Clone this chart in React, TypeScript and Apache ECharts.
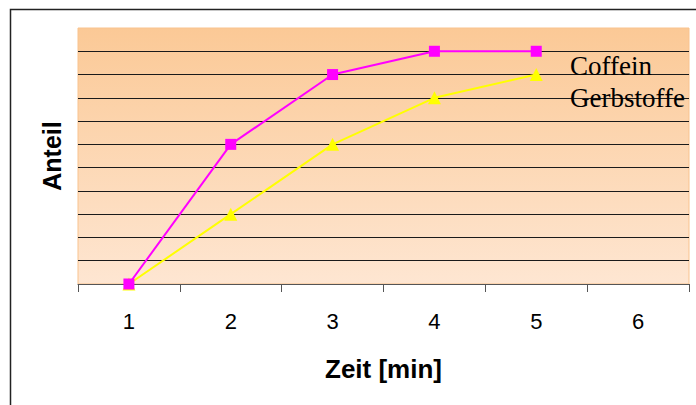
import React, { useEffect, useRef } from "react";
import * as echarts from "echarts";

const categories = ["1", "2", "3", "4", "5", "6"];
const coffein = [0, 6, 9, 10, 10];
const gerbstoffe = [0, 3, 6, 8, 9];
const seriesNames = ["Coffein", "Gerbstoffe"];
const xAxisTitle = "Zeit [min]";
const yAxisTitle = "Anteil";

export default function App() {
  const ref = useRef<HTMLDivElement>(null);
  useEffect(() => {
    if (!ref.current) return;
    const chart = echarts.init(ref.current, null, { renderer: "svg" });
    const gridColors: string[] = [];
    for (let i = 0; i <= 11; i++) gridColors.push(i === 11 ? "rgba(0,0,0,0)" : "#1a1a1a");
    chart.setOption({
      animation: false,
      backgroundColor: "#ffffff",
      graphic: [
        {
          type: "rect",
          shape: { x: 10.5, y: 9.5, width: 720, height: 420 },
          style: { fill: "none", stroke: "#222", lineWidth: 1.5 },
          silent: true,
          z: -10,
        },
      ],
      grid: {
        left: 78,
        right: 7,
        top: 28,
        bottom: 121,
        show: true,
        backgroundColor: new echarts.graphic.LinearGradient(0, 0, 0, 1, [
          { offset: 0, color: "#FBC996" },
          { offset: 1, color: "#FEE6D2" },
        ]),
        borderColor: "#F9C38E",
        borderWidth: 1,
      },
      legend: {
        orient: "vertical",
        left: 559,
        top: 45,
        data: seriesNames,
        itemWidth: 0,
        itemHeight: 0,
        itemGap: 0,
        selectedMode: false,
        textStyle: {
          fontFamily: "Liberation Serif, Times New Roman, serif",
          fontSize: 27,
          color: "#000",
          lineHeight: 32,
        },
      },
      xAxis: {
        type: "category",
        data: categories,
        boundaryGap: true,
        axisLine: { show: true, lineStyle: { color: "#555", width: 1 } },
        axisTick: { show: true, length: 8, lineStyle: { color: "#555" } },
        axisLabel: {
          fontFamily: "Liberation Sans, Arial, sans-serif",
          fontSize: 22,
          color: "#000",
          margin: 26,
        },
        name: xAxisTitle,
        nameLocation: "middle",
        nameGap: 72,
        nameTextStyle: {
          fontFamily: "Liberation Sans, Arial, sans-serif",
          fontSize: 26,
          fontWeight: "bold",
          color: "#000",
        },
        splitLine: { show: false },
      },
      yAxis: {
        type: "value",
        min: 0,
        max: 11,
        interval: 1,
        axisLine: { show: false },
        axisTick: { show: false },
        axisLabel: { show: false },
        splitLine: { show: true, lineStyle: { color: gridColors, width: 1 } },
        name: yAxisTitle,
        nameLocation: "middle",
        nameGap: 14,
        nameTextStyle: {
          fontFamily: "Liberation Sans, Arial, sans-serif",
          fontSize: 25,
          fontWeight: "bold",
          color: "#000",
        },
      },
      series: [
        {
          name: seriesNames[0],
          type: "line",
          data: coffein,
          z: 4,
          symbol: "rect",
          symbolSize: 11,
          lineStyle: { color: "#FF00FF", width: 2 },
          itemStyle: { color: "#FF00FF" },
        },
        {
          name: seriesNames[1],
          type: "line",
          data: gerbstoffe,
          z: 3,
          symbol: "triangle",
          symbolSize: 13,
          lineStyle: { color: "#FFFF00", width: 2 },
          itemStyle: { color: "#FFFF00" },
        },
      ],
    });
    return () => chart.dispose();
  }, []);
  return (
    <div
      ref={ref}
      style={{ position: "fixed", left: 0, top: 0, width: 696, height: 405 }}
    />
  );
}
